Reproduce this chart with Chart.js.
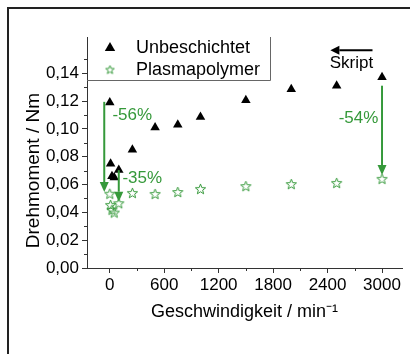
<!DOCTYPE html>
<html>
<head>
<meta charset="utf-8">
<script src="https://cdn.jsdelivr.net/npm/chart.js@4/dist/chart.umd.min.js"></script>
<style>
	body { margin: 0; background: #fff; }
	canvas { display: block; }
</style>
</head>
<body>
<canvas id="torqueChart" width="410" height="354"></canvas>
<script>
// speeds in min^-1
const speeds = [1, 10, 25, 50, 100, 250, 500, 750, 1000, 1500, 2000, 2500, 3000];
const uncoated = [0.119, 0.075, 0.066, 0.065, 0.0705, 0.085, 0.101, 0.103, 0.1085, 0.1205, 0.1285, 0.131, 0.137];
const plasma = [0.053, 0.045, 0.0415, 0.0395, 0.0462, 0.0536, 0.0529, 0.0543, 0.0565, 0.0585, 0.060, 0.0608, 0.0637];

const xTicks = [0, 600, 1200, 1800, 2400, 3000];
const yTicks = [0, 0.02, 0.04, 0.06, 0.08, 0.10, 0.12, 0.14];

// reduction arrows: x, start, end (data units) and their labels
const arrowX = [-60, 100, 3000];
const arrowFrom = [0.1194, 0.0703, 0.131];
const arrowTo = [0.0546, 0.0476, 0.0668];
const arrowLabels = ['-56%', '-35%', '-54%'];
const arrowLabelX = [30, 140, 2960];
const arrowLabelY = [0.110, 0.0646, 0.1077];

const GREEN = '#35993a';
const FONT = '"Liberation Sans", Arial, sans-serif';

function makeStar(size, outer, inner) {
	const c = document.createElement('canvas');
	c.width = size;
	c.height = size;
	const g = c.getContext('2d');
	const cx = size / 2, cy = size / 2;
	g.beginPath();
	for (let i = 0; i < 10; i++) {
		const r = i % 2 === 0 ? outer : inner;
		const a = -Math.PI / 2 + i * Math.PI / 5;
		const px = cx + Math.cos(a) * r, py = cy + Math.sin(a) * r;
		i === 0 ? g.moveTo(px, py) : g.lineTo(px, py);
	}
	g.closePath();
	g.strokeStyle = GREEN;
	g.lineWidth = 1;
	g.stroke();
	return c;
}
const starImg = makeStar(13, 5.4, 2.3);
const legendStar = makeStar(11, 4.5, 1.9);

function arrow(ctx, x1, y1, x2, y2, color, head) {
	const ang = Math.atan2(y2 - y1, x2 - x1);
	ctx.save();
	ctx.strokeStyle = color;
	ctx.fillStyle = color;
	ctx.lineWidth = 2;
	ctx.beginPath();
	ctx.moveTo(x1, y1);
	ctx.lineTo(x2 - Math.cos(ang) * head, y2 - Math.sin(ang) * head);
	ctx.stroke();
	ctx.beginPath();
	ctx.moveTo(x2, y2);
	ctx.lineTo(x2 - Math.cos(ang) * head + Math.sin(ang) * 4.5, y2 - Math.sin(ang) * head - Math.cos(ang) * 4.5);
	ctx.lineTo(x2 - Math.cos(ang) * head - Math.sin(ang) * 4.5, y2 - Math.sin(ang) * head + Math.cos(ang) * 4.5);
	ctx.closePath();
	ctx.fill();
	ctx.restore();
}

const extras = {
	id: 'extras',
	afterDraw(chart) {
		const ctx = chart.ctx;
		const xs = chart.scales.x, ys = chart.scales.y;
		const area = chart.chartArea;
		ctx.save();

		// frame of the figure
		ctx.strokeStyle = '#222';
		ctx.lineWidth = 2;
		ctx.beginPath();
		ctx.moveTo(8, 354);
		ctx.lineTo(8, 8);
		ctx.lineTo(410, 8);
		ctx.stroke();

		// minor ticks
		ctx.strokeStyle = '#333';
		ctx.lineWidth = 1;
		ctx.beginPath();
		for (let v = -300; v <= 3300; v += 600) {
			const p = Math.round(xs.getPixelForValue(v)) + 0.5;
			if (p < area.left || p > area.right) continue;
			ctx.moveTo(p, area.bottom);
			ctx.lineTo(p, area.bottom + 3);
		}
		for (let v = 0.01; v < 0.16; v += 0.02) {
			const p = Math.round(ys.getPixelForValue(v)) + 0.5;
			ctx.moveTo(area.left, p);
			ctx.lineTo(area.left - 3, p);
		}
		ctx.stroke();

		// y axis title, centred on the labelled range
		ctx.save();
		ctx.translate(34, (ys.getPixelForValue(yTicks[0]) + ys.getPixelForValue(yTicks[yTicks.length - 1])) / 2);
		ctx.rotate(-Math.PI / 2);
		ctx.font = '19px ' + FONT;
		ctx.fillStyle = '#000';
		ctx.textAlign = 'center';
		ctx.textBaseline = 'middle';
		ctx.fillText('Drehmoment / Nm', 0, 0);
		ctx.restore();

		// legend box
		const lx = area.left, ly = area.top;
		ctx.strokeStyle = '#666';
		ctx.beginPath();
		ctx.moveTo(lx, ly + 43.5);
		ctx.lineTo(lx + 183.5, ly + 43.5);
		ctx.lineTo(lx + 183.5, ly);
		ctx.stroke();
		ctx.fillStyle = '#000';
		Chart.helpers.drawPoint(ctx, { pointStyle: 'triangle', radius: 6, rotation: 0, borderWidth: 0 }, lx + 23, ly + 11);
		ctx.drawImage(legendStar, lx + 23 - 5.5, ly + 33 - 5.5);
		ctx.font = '18px ' + FONT;
		ctx.textBaseline = 'middle';
		ctx.textAlign = 'left';
		ctx.fillStyle = '#000';
		ctx.fillText(chart.data.datasets[0].label, lx + 49, ly + 11);
		ctx.fillText(chart.data.datasets[1].label, lx + 49, ly + 33);

		// reduction arrows
		ctx.font = '17px ' + FONT;
		for (let i = 0; i < arrowX.length; i++) {
			const px = xs.getPixelForValue(arrowX[i]);
			arrow(ctx, px, ys.getPixelForValue(arrowFrom[i]), px, ys.getPixelForValue(arrowTo[i]), GREEN, 10);
			ctx.fillStyle = GREEN;
			ctx.textAlign = i === 2 ? 'right' : 'left';
			ctx.fillText(arrowLabels[i], xs.getPixelForValue(arrowLabelX[i]), ys.getPixelForValue(arrowLabelY[i]));
		}

		// Skript arrow
		arrow(ctx, xs.getPixelForValue(2895), ys.getPixelForValue(0.1565), xs.getPixelForValue(2431), ys.getPixelForValue(0.1565), '#000', 9);
		ctx.fillStyle = '#000';
		ctx.textAlign = 'center';
		ctx.fillText('Skript', xs.getPixelForValue(2663), ys.getPixelForValue(0.147));
		ctx.restore();
	}
};

const tickFont = { family: FONT, size: 17 };
const titleFont = { family: FONT, size: 18 };

new Chart(document.getElementById('torqueChart').getContext('2d'), {
	type: 'scatter',
	data: {
		datasets: [
			{
				label: 'Unbeschichtet',
				data: speeds.map((s, i) => ({ x: s, y: uncoated[i] })),
				pointStyle: 'triangle',
				pointRadius: 5.5,
				backgroundColor: '#000',
				borderColor: '#000',
				borderWidth: 0,
			},
			{
				label: 'Plasmapolymer',
				data: speeds.map((s, i) => ({ x: s, y: plasma[i] })),
				pointStyle: starImg,
				borderColor: GREEN,
			},
		],
	},
	options: {
		responsive: false,
		animation: false,
		devicePixelRatio: 1,
		layout: { padding: { left: 8, top: 37, right: 8, bottom: 0 } },
		plugins: { legend: { display: false }, tooltip: { enabled: false } },
		scales: {
			x: {
				type: 'linear',
				min: -250,
				max: 3220,
				afterBuildTicks: (s) => { s.ticks = xTicks.map((v) => ({ value: v })); },
				afterFit: (s) => { s.height = 86; },
				ticks: { font: tickFont, color: '#000', padding: 2, autoSkip: false, maxRotation: 0, callback: (v) => String(v) },
				grid: { drawOnChartArea: false, tickLength: 5, color: '#333' },
				border: { color: '#333' },
				title: {
					display: true,
					text: 'Geschwindigkeit / min⁻¹',
					font: titleFont,
					color: '#000',
					padding: { top: 0, bottom: 31 },
				},
			},
			y: {
				min: 0,
				max: 0.166,
				afterBuildTicks: (s) => { s.ticks = yTicks.map((v) => ({ value: v })); },
				afterFit: (s) => { s.width = 79; },
				ticks: {
					font: tickFont,
					color: '#000',
					padding: 3,
					autoSkip: false,
					callback: (v) => v.toFixed(2).replace('.', ','),
				},
				grid: { drawOnChartArea: false, tickLength: 5, color: '#333' },
				border: { color: '#333' },
			},
		},
	},
	plugins: [extras],
});
</script>
</body>
</html>
